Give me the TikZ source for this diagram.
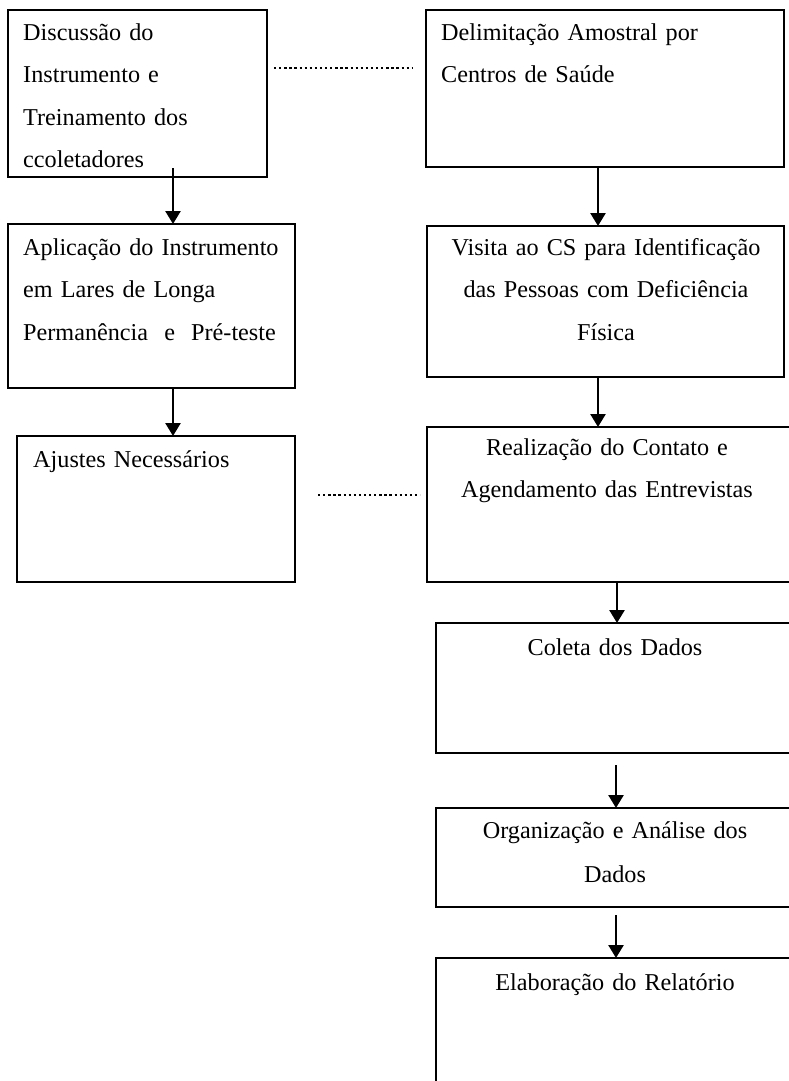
\documentclass[tikz,border=0pt]{standalone}
\usepackage{fontspec}
\setmainfont{Liberation Serif}
\usepackage{tikz}
\usetikzlibrary{arrows.meta}

\begin{document}
\begin{tikzpicture}[x=1pt,y=-1pt,
  caixa/.style={draw, line width=2.6pt, inner sep=0pt, outer sep=0pt, anchor=north west},
  rotulo/.style={inner sep=0pt, font=\fontsize{24.2}{42.3}\selectfont},
  esq/.style={rotulo, anchor=north west, text width=320pt, align=left},
  meio/.style={rotulo, anchor=north, text width=370pt, align=center},
  seta/.style={line width=2.6pt, -{Triangle[length=13pt,width=15pt]}},
  pontos/.style={line width=2.6pt, dash pattern=on 2.3pt off 2.8pt}]
\path [use as bounding box, fill=white] (0,0) rectangle (788,1081);

%left column
\node [caixa, minimum width=259pt, minimum height=167pt] (d1) at (8,10) {};
\node [caixa, minimum width=287pt, minimum height=164pt] (d2) at (8,224) {};
\node [caixa, minimum width=278pt, minimum height=146pt] (d3) at (17,436) {};
\node [esq] (t1) at (23,10.6) {\strut Discussão do\\Instrumento e\\Treinamento dos\\ccoletadores};
\node [esq] (t2) at (23,225.6) {\strut Aplicação do Instrumento\\em Lares de Longa\\Permanência~~e~~Pré-teste};
\node [esq] (t3) at (33,437.6) {\strut Ajustes Necessários};

%right column
\node [caixa, minimum width=358pt, minimum height=157pt] (r1) at (426,10) {};
\node [caixa, minimum width=357pt, minimum height=151pt] (r2) at (427,226) {};
\node [caixa, minimum width=365pt, minimum height=155pt] (r3) at (427,427) {};
\node [caixa, minimum width=358pt, minimum height=130pt] (r4) at (436,623) {};
\node [caixa, minimum width=358pt, minimum height=99pt] (r5) at (436,808) {};
\node [caixa, minimum width=358pt, minimum height=140pt] (r6) at (436,958) {};
\node [esq] (s1) at (441,10.6) {\strut Delimitação Amostral por\\Centros de Saúde};
\node [meio] (s2) at (606,225.6) {\strut Visita ao CS para Identificação\\das Pessoas com Deficiência\\Física};
\node [meio] (s3) at (607,425.6) {\strut Realização do Contato e\\Agendamento das Entrevistas};
\node [meio] (s4) at (615,625.6) {\strut Coleta dos Dados};
\node [meio] (s5) at (615,808.6) {\strut Organização e Análise dos\\[1.7pt]Dados};
\node [meio] (s6) at (615,960.6) {\strut Elaboração do Relatório};

%arrows
\draw [seta] ([xshift=35.5pt,yshift=9pt]d1.south) -- ([xshift=21.5pt]d2.north);
\draw [seta] ([xshift=21.5pt]d2.south) -- ([xshift=17pt]d3.north);
\draw [seta] ([xshift=-7pt]r1.south) -- ([xshift=-7.5pt]r2.north);
\draw [seta] ([xshift=-7.5pt]r2.south) -- ([xshift=-11.5pt]r3.north);
\draw [seta] ([xshift=7.5pt]r3.south) -- ([xshift=2pt]r4.north);
\draw [seta] ([xshift=1pt,yshift=-12pt]r4.south) -- ([xshift=1pt]r5.north);
\draw [seta] ([xshift=1pt,yshift=-8pt]r5.south) -- ([xshift=1pt]r6.north);

%dotted links
\draw [pontos] ([xshift=7pt,yshift=25.5pt]d1.east) -- ([xshift=-13pt,yshift=20.5pt]r1.west);
\draw [pontos] ([xshift=23pt,yshift=14pt]d3.east) -- ([xshift=-7pt,yshift=9.5pt]r3.west);
\end{tikzpicture}
\end{document}
